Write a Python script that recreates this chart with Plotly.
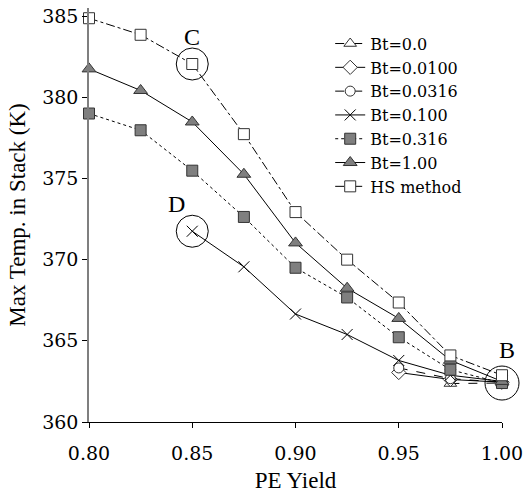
import plotly.graph_objects as go

# ---- data ----
yield_all = [0.80, 0.825, 0.85, 0.875, 0.90, 0.925, 0.95, 0.975, 1.00]

bt00_x = [0.975, 1.00]
bt00_y = [362.37, 362.40]

bt0100_x = [0.95, 0.975, 1.00]
bt0100_y = [363.05, 362.62, 362.45]

bt0316_x = [0.95, 0.975, 1.00]
bt0316_y = [363.33, 362.67, 362.45]

bt100_x = [0.85, 0.875, 0.90, 0.925, 0.95, 0.975, 1.00]
bt100_y = [371.75, 369.56, 366.65, 365.39, 363.79, 362.88, 362.50]

bt316_x = yield_all
bt316_y = [379.0, 377.97, 375.48, 372.63, 369.5, 367.67, 365.22, 363.22, 362.40]

bt1_x = yield_all
bt1_y = [381.75, 380.42, 378.48, 375.26, 371.03, 368.24, 366.38, 363.80, 362.50]

hs_x = yield_all
hs_y = [384.87, 383.85, 382.05, 377.73, 372.93, 370.0, 367.36, 364.1, 362.88]

x_ticks = [0.80, 0.85, 0.90, 0.95, 1.00]
x_ticklabels = ["0.80", "0.85", "0.90", "0.95", "1.00"]
y_ticks = [360, 365, 370, 375, 380, 385]

X_RANGE = [0.80, 1.00]
Y_RANGE = [360, 385.5]

FONT = "Liberation Serif"
SMALL_FONT = "DejaVu Serif"
GRAY = "#7f7f7f"
EDGE = "#333333"

fig = go.Figure()

def add(name, xs, ys, dash, symbol, fill, size, edge=EDGE):
    fig.add_trace(go.Scatter(
        x=xs, y=ys, name=name, mode="lines+markers",
        line=dict(color="black", width=1, dash=dash),
        marker=dict(symbol=symbol, size=size, color=fill,
                    line=dict(color=edge, width=1)),
        cliponaxis=False,
    ))

add("Bt=0.0", bt00_x, bt00_y, "dash", "triangle-up", "white", 11)
add("Bt=0.0100", bt0100_x, bt0100_y, "solid", "diamond", "white", 11)
add("Bt=0.0316", bt0316_x, bt0316_y, "dash", "circle", "white", 10)
add("Bt=0.100", bt100_x, bt100_y, "solid", "x-thin", "black", 11, edge="black")
add("Bt=0.316", bt316_x, bt316_y, "dot", "square", GRAY, 11)
add("Bt=1.00", bt1_x, bt1_y, "solid", "triangle-up", GRAY, 12)
add("HS method", hs_x, hs_y, "dashdot", "square", "white", 11)


def px(v):
    return (v - X_RANGE[0]) / (X_RANGE[1] - X_RANGE[0])


def py(v):
    return (v - Y_RANGE[0]) / (Y_RANGE[1] - Y_RANGE[0])


circles = [(hs_x[2], hs_y[2], 16), (bt100_x[0], bt100_y[0], 16), (hs_x[-1], bt316_y[-1], 17)]
for cx, cy, r in circles:
    fig.add_shape(type="circle", xref="paper", yref="paper", xsizemode="pixel", ysizemode="pixel",
                  xanchor=px(cx), yanchor=py(cy), x0=-r, x1=r, y0=-r, y1=r,
                  line=dict(color="black", width=1))

labels = [("C", hs_x[2], hs_y[2], 0, 27), ("D", bt100_x[0], bt100_y[0], -16, 27),
          ("B", hs_x[-1], bt316_y[-1], 5, 33)]
for t, lx, ly, dx, dy in labels:
    fig.add_annotation(x=lx, y=ly, text=t, showarrow=False, xshift=dx, yshift=dy,
                       font=dict(family=FONT, size=24, color="black"))

fig.update_layout(
    width=528, height=500,
    margin=dict(l=89, r=25, t=5, b=78),
    paper_bgcolor="white", plot_bgcolor="white",
    font=dict(family=FONT, color="black"),
    showlegend=True,
    legend=dict(x=0.584, y=0.955, xanchor="left", yanchor="top",
                bgcolor="rgba(0,0,0,0)", font=dict(family=SMALL_FONT, size=16),
                itemwidth=30, tracegroupgap=0),
    xaxis=dict(range=X_RANGE, tickvals=x_ticks, ticktext=x_ticklabels,
               showgrid=False, zeroline=False, showline=True, linecolor="black", linewidth=1,
               ticks="outside", ticklen=5, tickcolor="black", ticklabelstandoff=9,
               tickfont=dict(family=SMALL_FONT, size=19),
               title=dict(text="PE Yield", font=dict(family=FONT, size=23), standoff=9)),
    yaxis=dict(range=Y_RANGE, tickvals=y_ticks,
               showgrid=False, zeroline=False, showline=True, linecolor=GRAY, linewidth=1.5,
               ticks="outside", ticklen=5, tickcolor="black",
               tickfont=dict(family=SMALL_FONT, size=19),
               title=dict(text="Max Temp. in Stack (K)", font=dict(family=FONT, size=23), standoff=10)),
    xaxis2=dict(overlaying="x", matches="x", range=X_RANGE, tickvals=x_ticks,
                showticklabels=False, ticks="inside", ticklen=5, tickcolor="black",
                showgrid=False, zeroline=False, showline=False),
)

fig.write_html("out.html")
